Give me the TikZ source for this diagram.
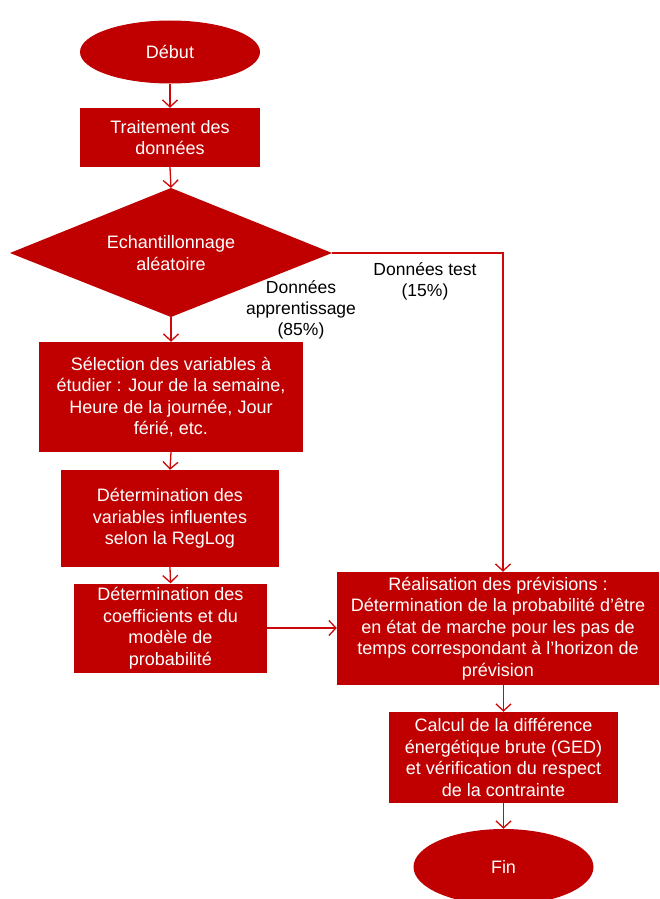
\documentclass[tikz,border=0pt]{standalone}
\usepackage{fontspec}
\setmainfont{Liberation Sans}
\usetikzlibrary{shapes.geometric,arrows.meta}
\definecolor{boxred}{RGB}{192,0,0}
\definecolor{linered}{RGB}{204,8,8}
\tikzset{
  x=1pt,y=-1pt,
  boxbase/.style={fill=boxred,draw=none,text=white,align=center,font=\fontsize{18}{21.5}\selectfont,inner sep=0pt},
  procbox/.style={boxbase,rectangle,minimum width=#1},
  term/.style={boxbase,ellipse,minimum width=180pt,minimum height=63pt},
  conn/.style={draw=linered,line width=1.3pt,-{Straight Barb[length=7pt,width=15pt,line width=1.3pt]}},
  lbl/.style={text=black,align=center,font=\fontsize{17.5}{21}\selectfont,inner sep=0pt}
}
\begin{document}
\begin{tikzpicture}
\useasboundingbox (0,0) rectangle (659,899);
\clip (0,0) rectangle (659,899);
\fill[white] (0,0) rectangle (659,899);
\node[term] (debut) at (170,52) {Début};
\node[procbox=180pt,minimum height=59pt] (trait) at (170,137.5) {Traitement des\\données};
\path[fill=boxred] (10,253) -- (171,188) -- (332,253) -- (171,317) -- cycle;
\coordinate (dtop) at (171,188);
\coordinate (dbot) at (171,317);
\coordinate (dright) at (332,253);
\node[text=white,align=center,font=\fontsize{18}{21.5}\selectfont,inner sep=0pt] (ech) at (171,253) {Echantillonnage\\aléatoire};
\node[procbox=264pt,minimum height=110pt] (sel) at (171,397) {Sélection des variables à\\étudier : Jour de la semaine,\\Heure de la journée, Jour\\férié, etc.};
\node[procbox=218pt,minimum height=97pt] (var) at (170,518.5) {Détermination des\\variables influentes\\selon la RegLog};
\node[procbox=193pt,minimum height=89pt] (coef) at (170.5,628) {Détermination des\\coefficients et du\\modèle de\\probabilité};
\node[procbox=322pt,minimum height=113pt] (real) at (498,628.5) {Réalisation des prévisions :\\Détermination de la probabilité d’être\\en état de marche pour les pas de\\temps correspondant à l’horizon de\\prévision};
\node[procbox=229pt,minimum height=91pt] (calc) at (503.5,757.5) {Calcul de la différence\\énergétique brute (GED)\\et vérification du respect\\de la contrainte};
\node[term,minimum height=76pt] (fin) at (503.5,867) {Fin};
\node[lbl] (ltest) at (425,281) {Données test\\(15\%)};
\node[lbl] (lapp) at (301,310) {Données\\apprentissage\\(85\%)};
\coordinate (corner) at (503,253);
\draw[conn] (debut.south) -- (trait.north);
\draw[conn] (trait.south) -- (dtop);
\draw[conn] (dbot) -- (sel.north);
\draw[conn] (sel.south) -- (var.north);
\draw[conn] (var.south) -- (coef.north);
\draw[conn] (coef.east) -- (coef.east -| real.west);
\draw[conn] (dright) -- (corner) -- (corner |- real.north);
\draw[conn] (real.south -| calc.north) -- (calc.north);
\draw[conn] (calc.south) -- (fin.north);
\end{tikzpicture}
\end{document}
